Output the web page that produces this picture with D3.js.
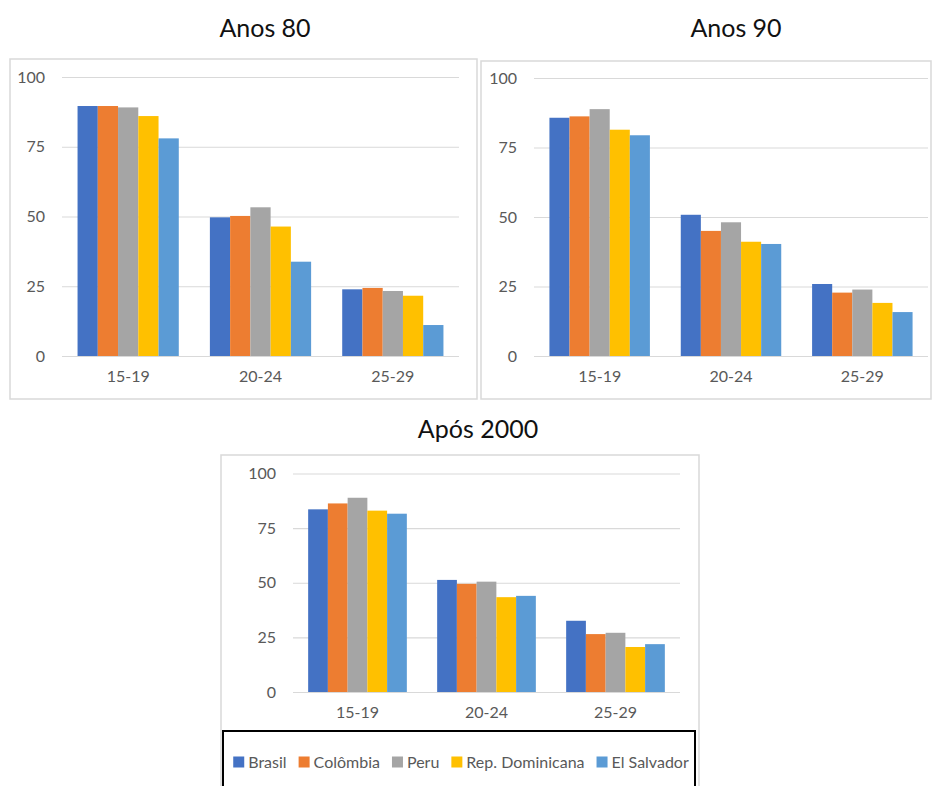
<!DOCTYPE html>
<html><head><meta charset="utf-8">
<script src="https://cdn.jsdelivr.net/npm/d3@7"></script>
<style>
body{margin:0;background:#fff}
svg{display:block;font-family:Lato,"Open Sans",sans-serif}
</style>
</head><body>
<svg id="chart" width="933" height="786"></svg>
<script>
// ---- data ----
const categories = ["15-19", "20-24", "25-29"];
const seriesNames = ["Brasil", "Colômbia", "Peru", "Rep. Dominicana", "El Salvador"];
const seriesColors = ["#4472C4", "#ED7D31", "#A5A5A5", "#FFC000", "#5B9BD5"];
const yTicks = [0, 25, 50, 75, 100];
const titles = ["Anos 80", "Anos 90", "Após 2000"];
// values per series, in category order
const anos80 = [
  [89.6, 49.7, 23.9],
  [89.6, 50.2, 24.4],
  [89.1, 53.3, 23.3],
  [86.0, 46.4, 21.6],
  [78.0, 33.8, 11.1]
];
const anos90 = [
  [85.7, 50.8, 25.9],
  [86.2, 45.0, 22.8],
  [88.8, 48.1, 23.9],
  [81.4, 41.1, 19.1],
  [79.4, 40.3, 15.8]
];
const apos2000 = [
  [83.6, 51.3, 32.6],
  [86.3, 49.5, 26.5],
  [88.9, 50.5, 27.1],
  [83.0, 43.4, 20.6],
  [81.6, 44.0, 21.9]
];

// ---- layout ----
const panels = [
  {title: titles[0], data: anos80, frame: {x: 10, y: 59, w: 467, h: 340}, plot: {l: 62, r: 459, t: 77, b: 356}, tx: 265, ty: 37},
  {title: titles[1], data: anos90, frame: {x: 481, y: 61, w: 450, h: 338}, plot: {l: 534, r: 928, t: 78, b: 356}, tx: 736, ty: 37},
  {title: titles[2], data: apos2000, frame: {x: 221, y: 455, w: 478, h: 360}, plot: {l: 293, r: 680, t: 473.5, b: 692}, tx: 478, ty: 438}
];

const svg = d3.select("#chart");

panels.forEach(p => {
  const g = svg.append("g");
  g.append("rect")
    .attr("x", p.frame.x).attr("y", p.frame.y)
    .attr("width", p.frame.w).attr("height", p.frame.h)
    .attr("fill", "none").attr("stroke", "#d9d9d9").attr("stroke-width", 1.5);

  g.append("text")
    .attr("x", p.tx).attr("y", p.ty)
    .attr("text-anchor", "middle")
    .attr("font-size", 25).attr("fill", "#111")
    .text(p.title);

  const w = p.plot.r - p.plot.l;
  const y = d3.scaleLinear().domain([0, 100]).range([p.plot.b, p.plot.t]);
  const x0 = d3.scaleBand().domain(categories).range([p.plot.l, p.plot.r])
    .paddingInner(0.235).paddingOuter(0.1175);
  const x1 = d3.scaleBand().domain(seriesNames).range([0, x0.bandwidth()]).padding(0);

  const yAxis = g.append("g")
    .attr("transform", `translate(${p.plot.l},0)`)
    .call(d3.axisLeft(y).tickValues(yTicks).tickSize(-w).tickPadding(17));
  yAxis.select(".domain").remove();
  yAxis.selectAll(".tick line").attr("stroke", "#d9d9d9").attr("stroke-width", 1.2);
  yAxis.selectAll(".tick text").attr("fill", "#595959").attr("font-size", 16)
    .attr("font-family", "Lato, 'Open Sans', sans-serif");

  const bars = g.append("g");
  seriesNames.forEach((s, si) => {
    bars.selectAll(null)
      .data(p.data[si].map((v, ci) => ({cat: categories[ci], v})))
      .join("rect")
      .attr("x", d => x0(d.cat) + x1(s))
      .attr("y", d => y(d.v))
      .attr("width", x1.bandwidth())
      .attr("height", d => y(0) - y(d.v))
      .attr("fill", seriesColors[si]);
  });

  const xAxis = g.append("g")
    .attr("transform", `translate(0,${p.plot.b})`)
    .call(d3.axisBottom(x0).tickSize(0).tickPadding(15));
  xAxis.select(".domain").remove();
  xAxis.selectAll(".tick text").attr("fill", "#595959").attr("font-size", 16)
    .attr("font-family", "Lato, 'Open Sans', sans-serif");
});

// ---- legend ----
const legBox = {x: 223, y: 731, w: 472, h: 80};
svg.append("rect")
  .attr("x", legBox.x).attr("y", legBox.y).attr("width", legBox.w).attr("height", legBox.h)
  .attr("fill", "#fff").attr("stroke", "#000").attr("stroke-width", 2);

const leg = svg.append("g");
const legY = 762;
let cx = 0;
seriesNames.forEach((s, i) => {
  const it = leg.append("g");
  it.append("rect").attr("x", 0).attr("y", legY - 5.5).attr("width", 11).attr("height", 11)
    .attr("fill", seriesColors[i]);
  const t = it.append("text").attr("x", 15).attr("y", legY).attr("dy", "0.35em")
    .attr("font-size", 16).attr("fill", "#595959").text(s);
  const tw = t.node().getComputedTextLength();
  it.attr("transform", `translate(${cx},0)`);
  cx += 15 + tw + 12;
});
const legW = cx - 12;
leg.attr("transform", `translate(${legBox.x + legBox.w / 2 - legW / 2 + 2},0)`);
</script>
</body></html>
